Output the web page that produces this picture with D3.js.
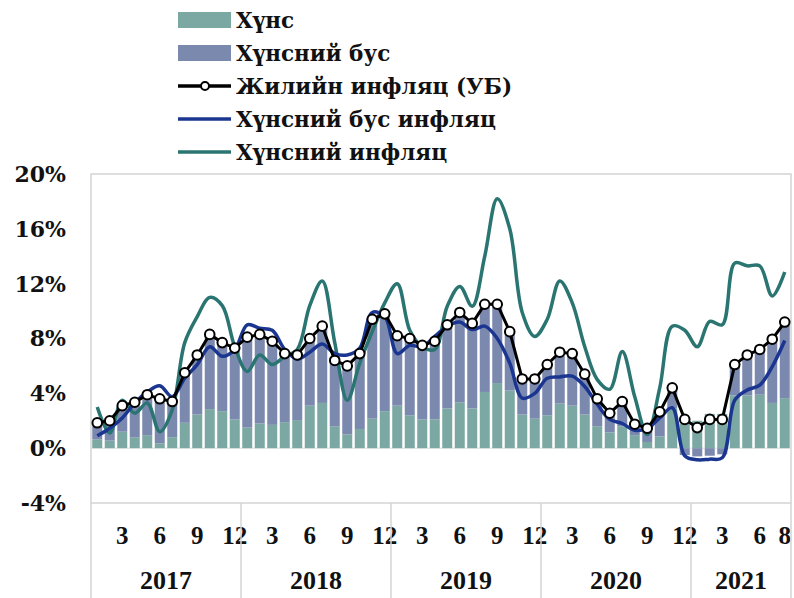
<!DOCTYPE html>
<html>
<head>
<meta charset="utf-8">
<script src="https://cdn.jsdelivr.net/npm/d3@7"></script>
<style>
  body { margin: 0; background: #fff; }
  svg text { font-family: 'DejaVu Serif', serif; font-weight: bold; fill: #111; }
</style>
</head>
<body>
<div id="chart"></div>
<script>
// Data: monthly, Jan 2017 .. Aug 2021 (56 months), values in %
var years = ['2017', '2018', '2019', '2020', '2021']
var monthsPerYear = [12, 12, 12, 12, 8]
var monthTicks = [3, 6, 9, 12]
var lastMonthTicks = [3, 6, 8]
var yTicks = [-4, 0, 4, 8, 12, 16, 20]

// bar contributions
var foodContrib = [0.65, 0.55, 1.2, 0.8, 0.95, 0.35, 0.8, 1.85, 2.45, 2.85, 2.7, 2.1,
  1.5, 1.8, 1.7, 1.9, 2.05, 3.1, 3.3, 1.6, 1.0, 1.4, 2.15, 2.7,
  3.1, 2.4, 2.1, 2.1, 2.9, 3.35, 2.9, 4.1, 4.75, 4.2, 2.45, 2.15,
  2.4, 3.25, 3.1, 2.45, 1.6, 1.15, 1.6, 0.95, 0.45, 0.85, 2.9, 1.8,
  2.0, 2.5, 2.5, 3.85, 3.85, 3.9, 3.3, 3.65]
var nonFoodContrib = [0.95, 1.25, 1.7, 2.4, 2.8, 3.1, 2.45, 3.45, 4.15, 5.25, 4.8, 5.0,
  6.4, 6.3, 5.9, 4.8, 4.55, 4.7, 5.4, 4.6, 4.8, 5.3, 7.05, 6.9,
  4.9, 5.4, 5.2, 5.5, 5.9, 6.35, 6.0, 6.2, 5.55, 4.1, 2.45, 2.75,
  3.5, 3.55, 3.6, 2.75, 1.85, 1.25, 1.6, 0.65, 0.95, 1.7, 1.45, -0.5,
  -0.6, -0.55, -0.45, 2.1, 2.8, 3.15, 4.5, 5.4]

// lines
var headline = [1.85, 2.0, 3.1, 3.35, 3.9, 3.6, 3.4, 5.5, 6.8, 8.3, 7.7, 7.3,
  8.1, 8.3, 7.8, 6.9, 6.8, 8.0, 8.9, 6.4, 6.0, 6.9, 9.4, 9.8,
  8.2, 8.0, 7.5, 7.8, 9.0, 9.9, 9.1, 10.5, 10.5, 8.5, 5.05, 5.05,
  6.1, 7.0, 6.9, 5.4, 3.6, 2.55, 3.4, 1.75, 1.45, 2.65, 4.4, 2.1,
  1.5, 2.1, 2.1, 6.1, 6.8, 7.2, 7.95, 9.2]
var nonFoodInfl = [0.9, 1.45, 2.2, 3.3, 4.1, 4.55, 3.75, 5.1, 6.1, 7.4, 6.7, 7.2,
  9.0, 8.75, 8.6, 7.2, 6.5, 7.0, 7.6, 6.9, 6.8, 7.3, 9.9, 9.6,
  6.9, 7.5, 7.4, 8.15, 8.9, 9.2, 8.65, 8.9, 8.0, 6.2, 3.65, 4.0,
  5.1, 5.2, 5.25, 4.5, 3.2, 2.1, 1.8, 1.3, 1.45, 2.2, 2.95, -0.55,
  -0.85, -0.8, -0.7, 3.5, 4.25, 4.6, 5.95, 7.85]
var foodInfl = [3.0, 1.1, 3.5, 2.55, 3.3, 1.2, 2.8, 7.7, 9.6, 11.0, 10.4, 7.4,
  5.6, 6.8, 6.1, 6.7, 7.2, 10.4, 12.2, 7.7, 3.5, 6.2, 8.5, 10.6,
  12.0, 8.6, 7.4, 7.2, 10.35, 11.8, 10.35, 14.0, 18.2, 16.0, 9.9, 8.15,
  9.4, 12.2, 10.6, 7.4, 5.0, 4.3, 7.05, 3.75, 1.0, 4.4, 8.9, 8.6,
  7.4, 9.25, 9.0, 13.5, 13.3, 13.3, 11.1, 12.85]

var colors = {
  food: '#7ba8a3',
  nonFood: '#7c89af',
  nonFoodLine: '#1b3690',
  foodLine: '#2a7571'
}

var width = 794
var height = 598
var plot = { left: 91, right: 791, top: 174, bottom: 503 }

var svg = d3
  .select('#chart')
  .append('svg')
  .attr('width', width)
  .attr('height', height)

var months = d3.range(foodContrib.length)

var xPositionScale = d3
  .scaleBand()
  .domain(months)
  .range([plot.left, plot.right])
  .paddingInner(0.2)
  .paddingOuter(0.1)

var yPositionScale = d3
  .scaleLinear()
  .domain([-4, 20])
  .range([plot.bottom, plot.top])

function cx(i) {
  return xPositionScale(i) + xPositionScale.bandwidth() / 2
}

// plot frame
svg
  .append('rect')
  .attr('x', plot.left)
  .attr('y', plot.top)
  .attr('width', plot.right - plot.left)
  .attr('height', plot.bottom - plot.top)
  .attr('fill', 'none')
  .attr('stroke', '#d4d4d4')
  .attr('stroke-width', 1.5)

svg
  .append('line')
  .attr('x1', plot.left)
  .attr('x2', plot.right)
  .attr('y1', yPositionScale(0))
  .attr('y2', yPositionScale(0))
  .attr('stroke', '#dcdcdc')
  .attr('stroke-width', 1)

// stacked bars
var stackData = months.map(function (i) {
  return { i: i, food: foodContrib[i], nonFood: nonFoodContrib[i] }
})

svg
  .selectAll('.bar-food')
  .data(stackData)
  .enter()
  .append('rect')
  .attr('class', 'bar-food')
  .attr('x', function (d) { return xPositionScale(d.i) })
  .attr('width', xPositionScale.bandwidth())
  .attr('y', function (d) { return yPositionScale(Math.max(d.food, 0)) })
  .attr('height', function (d) { return Math.abs(yPositionScale(0) - yPositionScale(d.food)) })
  .attr('fill', colors.food)

svg
  .selectAll('.bar-nonfood')
  .data(stackData)
  .enter()
  .append('rect')
  .attr('class', 'bar-nonfood')
  .attr('x', function (d) { return xPositionScale(d.i) })
  .attr('width', xPositionScale.bandwidth())
  .attr('y', function (d) {
    return d.nonFood >= 0 ? yPositionScale(d.food + d.nonFood) : yPositionScale(0)
  })
  .attr('height', function (d) {
    return d.nonFood >= 0
      ? yPositionScale(d.food) - yPositionScale(d.food + d.nonFood)
      : yPositionScale(d.nonFood) - yPositionScale(0)
  })
  .attr('fill', colors.nonFood)

// lines
var smooth = d3
  .line()
  .x(function (d, i) { return cx(i) })
  .y(function (d) { return yPositionScale(d) })
  .curve(d3.curveCatmullRom.alpha(0.5))

var straight = d3
  .line()
  .x(function (d, i) { return cx(i) })
  .y(function (d) { return yPositionScale(d) })

svg
  .append('path')
  .datum(foodInfl)
  .attr('d', smooth)
  .attr('fill', 'none')
  .attr('stroke', colors.foodLine)
  .attr('stroke-width', 3.5)

svg
  .append('path')
  .datum(nonFoodInfl)
  .attr('d', smooth)
  .attr('fill', 'none')
  .attr('stroke', colors.nonFoodLine)
  .attr('stroke-width', 3.5)

svg
  .append('path')
  .datum(headline)
  .attr('d', straight)
  .attr('fill', 'none')
  .attr('stroke', '#000')
  .attr('stroke-width', 3)

svg
  .selectAll('.dot')
  .data(headline)
  .enter()
  .append('circle')
  .attr('class', 'dot')
  .attr('cx', function (d, i) { return cx(i) })
  .attr('cy', function (d) { return yPositionScale(d) })
  .attr('r', 4.8)
  .attr('fill', '#fff')
  .attr('stroke', '#000')
  .attr('stroke-width', 2)

// y axis labels
svg
  .selectAll('.y-label')
  .data(yTicks)
  .enter()
  .append('text')
  .attr('class', 'y-label')
  .attr('x', 66)
  .attr('y', function (d) { return yPositionScale(d) })
  .attr('dy', '0.36em')
  .attr('text-anchor', 'end')
  .attr('font-size', 22)
  .text(function (d) { return d + '%' })

// x axis: month numbers and years
var start = 0
years.forEach(function (year, k) {
  var n = monthsPerYear[k]
  var ticks = n === 12 ? monthTicks : lastMonthTicks
  ticks.forEach(function (m) {
    svg
      .append('text')
      .attr('x', cx(start + m - 1))
      .attr('y', 535)
      .attr('dy', '0.36em')
      .attr('text-anchor', 'middle')
      .attr('font-size', 25)
      .style('font-family', "'Liberation Serif', serif")
      .text(m)
  })
  var x0 = xPositionScale.step() * start + plot.left
  var x1 = xPositionScale.step() * (start + n) + plot.left
  svg
    .append('text')
    .attr('x', (x0 + x1) / 2)
    .attr('y', 580)
    .attr('dy', '0.36em')
    .attr('text-anchor', 'middle')
    .attr('font-size', 26)
    .style('font-family', "'Liberation Serif', serif")
    .text(year)
  svg
    .append('line')
    .attr('x1', x0)
    .attr('x2', x0)
    .attr('y1', plot.bottom)
    .attr('y2', height)
    .attr('stroke', '#d4d4d4')
    .attr('stroke-width', 1.5)
  start += n
})
svg
  .append('line')
  .attr('x1', plot.right)
  .attr('x2', plot.right)
  .attr('y1', plot.bottom)
  .attr('y2', height)
  .attr('stroke', '#d4d4d4')
  .attr('stroke-width', 1.5)

// legend
var legendItems = [
  { label: 'Хүнс', type: 'rect', color: colors.food },
  { label: 'Хүнсний бус', type: 'rect', color: colors.nonFood },
  { label: 'Жилийн инфляц (УБ)', type: 'dot', color: '#000' },
  { label: 'Хүнсний бус инфляц', type: 'line', color: colors.nonFoodLine },
  { label: 'Хүнсний инфляц', type: 'line', color: colors.foodLine }
]

var legend = svg
  .selectAll('.legend')
  .data(legendItems)
  .enter()
  .append('g')
  .attr('class', 'legend')
  .attr('transform', function (d, i) {
    return 'translate(178,' + (20 + i * 33) + ')'
  })

legend.each(function (d) {
  var g = d3.select(this)
  if (d.type === 'rect') {
    g.append('rect')
      .attr('x', 0)
      .attr('y', -8)
      .attr('width', 53)
      .attr('height', 16)
      .attr('fill', d.color)
  } else {
    g.append('line')
      .attr('x1', 0)
      .attr('x2', 53)
      .attr('stroke', d.color)
      .attr('stroke-width', 3.5)
    if (d.type === 'dot') {
      g.append('circle')
        .attr('cx', 27)
        .attr('r', 4)
        .attr('fill', '#fff')
        .attr('stroke', '#000')
        .attr('stroke-width', 2)
    }
  }
  g.append('text')
    .attr('x', 58)
    .attr('dy', '0.36em')
    .attr('font-size', 21.5)
    .text(d.label)
})
</script>
</body>
</html>
